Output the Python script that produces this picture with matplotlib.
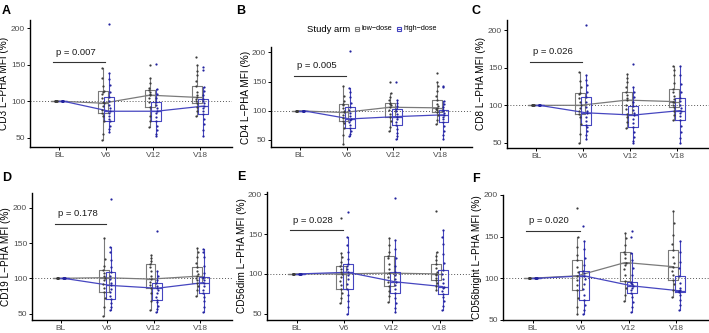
import numpy as np
import matplotlib
matplotlib.use("Agg")
import matplotlib.pyplot as plt
from matplotlib.lines import Line2D

plt.rcParams['font.family'] = ['Liberation Sans', 'DejaVu Sans']

########################################################### DATA
visits = ['BL', 'V6', 'V12', 'V18']
arms = ['low\u2212dose', 'high\u2212dose']

#box stats per visit V6,V12,V18 : (q1, median, q3, whisker low, whisker high)
cd3_low_box = [(84, 97, 114, 46, 145), (92, 108, 115, 65, 131), (97, 105, 120, 80, 150)]
cd3_high_box = [(72, 86, 106, 57, 139), (73, 86, 99, 52, 116), (82, 93, 103, 52, 119)]
cd3_low_pts = [[46, 55, 72, 80, 84, 88, 93, 97, 99, 104, 110, 113, 114, 120, 132, 145],
               [65, 72, 80, 92, 98, 104, 108, 110, 113, 115, 118, 124, 131, 149],
               [80, 86, 92, 97, 100, 103, 105, 108, 113, 120, 127, 135, 141, 150, 160]]
cd3_high_pts = [[57, 62, 66, 72, 76, 80, 84, 86, 90, 95, 100, 106, 112, 122, 130, 139, 205],
                [52, 55, 60, 66, 73, 78, 83, 86, 90, 95, 99, 104, 110, 116, 151],
                [52, 60, 68, 75, 82, 86, 90, 93, 97, 100, 103, 108, 114, 119, 143, 147]]

cd4_low_box = [(83, 97, 111, 43, 143), (89, 106, 114, 65, 130), (97, 105, 118, 78, 150)]
cd4_high_box = [(71, 86, 106, 57, 139), (76, 90, 103, 52, 118), (81, 93, 102, 52, 117)]
cd4_low_pts = [[43, 58, 70, 79, 83, 88, 93, 97, 100, 105, 109, 111, 116, 125, 143],
               [65, 73, 82, 89, 95, 101, 106, 109, 112, 114, 118, 123, 130, 150],
               [78, 85, 92, 97, 101, 103, 105, 108, 112, 118, 126, 134, 142, 150, 165]]
cd4_high_pts = [[57, 61, 66, 71, 75, 80, 84, 86, 91, 96, 101, 106, 113, 124, 132, 139, 202],
                [52, 56, 62, 69, 76, 81, 86, 90, 94, 99, 103, 108, 113, 118, 150],
                [52, 58, 66, 74, 81, 86, 90, 93, 96, 99, 102, 107, 112, 117, 141, 143]]

cd8_low_box = [(88, 100, 117, 50, 145), (88, 107, 118, 70, 142), (98, 105, 122, 80, 152)]
cd8_high_box = [(74, 90, 111, 55, 140), (71, 87, 99, 50, 125), (81, 93, 110, 50, 152)]
cd8_low_pts = [[50, 62, 75, 85, 88, 93, 97, 100, 104, 110, 115, 117, 124, 133, 145],
               [70, 78, 85, 88, 95, 101, 107, 110, 114, 118, 124, 131, 137, 142],
               [80, 87, 93, 98, 101, 104, 105, 108, 113, 118, 122, 130, 140, 147, 152]]
cd8_high_pts = [[55, 60, 66, 71, 74, 79, 84, 90, 93, 98, 104, 111, 118, 127, 134, 140, 207],
                [50, 53, 58, 64, 71, 76, 82, 87, 90, 94, 99, 104, 111, 118, 125, 155],
                [50, 56, 64, 72, 81, 86, 90, 93, 97, 101, 106, 110, 118, 128, 140, 152]]

cd19_low_box = [(81, 101, 112, 47, 157), (86, 99, 121, 55, 133), (93, 103, 116, 75, 143)]
cd19_high_box = [(71, 90, 109, 55, 145), (69, 86, 93, 52, 111), (79, 94, 102, 52, 142)]
cd19_low_pts = [[47, 60, 72, 81, 86, 92, 97, 101, 104, 108, 112, 117, 128, 157],
                [55, 68, 79, 86, 90, 95, 99, 104, 110, 116, 121, 125, 129, 133],
                [75, 83, 89, 93, 97, 100, 103, 106, 110, 116, 122, 130, 138, 143]]
cd19_high_pts = [[55, 59, 65, 71, 75, 80, 85, 90, 94, 99, 104, 109, 116, 126, 137, 145, 212],
                 [52, 56, 61, 66, 69, 74, 79, 83, 86, 89, 93, 98, 104, 111, 167],
                 [52, 60, 68, 74, 79, 84, 89, 94, 97, 100, 102, 108, 118, 130, 138, 142]]

cd56dim_low_box = [(81, 100, 110, 63, 126), (85, 101, 122, 65, 145), (92, 100, 112, 80, 128)]
cd56dim_high_box = [(81, 102, 112, 50, 146), (76, 90, 103, 52, 142), (75, 84, 105, 55, 155)]
cd56dim_low_pts = [[63, 70, 76, 81, 86, 91, 96, 100, 103, 106, 110, 115, 121, 126, 170],
                   [65, 72, 79, 85, 90, 96, 101, 106, 113, 120, 122, 128, 136, 145],
                   [80, 85, 89, 92, 95, 98, 100, 103, 107, 112, 117, 122, 128, 179]]
cd56dim_high_pts = [[50, 58, 66, 74, 81, 87, 93, 98, 102, 106, 110, 112, 119, 127, 136, 146, 178],
                    [52, 57, 63, 70, 76, 81, 86, 90, 94, 99, 103, 110, 120, 131, 142, 195],
                    [55, 60, 66, 71, 75, 79, 82, 84, 88, 94, 100, 105, 114, 125, 138, 147, 155]]

cd56br_low_box = [(86, 103, 122, 57, 150), (97, 119, 132, 73, 155), (98, 114, 134, 78, 181)]
cd56br_high_box = [(74, 103, 109, 57, 145), (82, 91, 96, 60, 130), (84, 85, 103, 62, 145)]
cd56br_low_pts = [[57, 66, 76, 86, 92, 98, 103, 108, 114, 122, 128, 138, 150, 184],
                   [73, 80, 88, 97, 104, 111, 116, 119, 124, 129, 132, 140, 148, 155],
                   [78, 86, 93, 98, 104, 109, 114, 119, 126, 134, 141, 152, 166, 181]]
cd56br_high_pts = [[57, 62, 68, 74, 80, 87, 93, 99, 103, 106, 109, 116, 125, 135, 145, 163],
                   [60, 66, 72, 78, 82, 86, 89, 91, 93, 95, 96, 104, 113, 122, 130, 150, 157],
                   [62, 68, 74, 80, 84, 85, 86, 89, 95, 103, 112, 120, 132, 145]]

ylabels = ['CD3 L\u2212PHA MFI (%)', 'CD4 L\u2212PHA MFI (%)', 'CD8 L\u2212PHA MFI (%)',
           'CD19 L\u2212PHA MFI (%)', 'CD56dim L\u2212PHA MFI (%)', 'CD56bright L\u2212PHA MFI (%)']
pvals = ['p = 0.007', 'p = 0.005', 'p = 0.026', 'p = 0.178', 'p = 0.028', 'p = 0.020']
p_line_y = [153, 160, 158, 177, 154.6, 157]
ylims = [(37, 211), (38, 209), (43, 214), (41, 221), (42, 203), (51, 190)]
letters = ['A', 'B', 'C', 'D', 'E', 'F']

low_box = [cd3_low_box, cd4_low_box, cd8_low_box, cd19_low_box, cd56dim_low_box, cd56br_low_box]
high_box = [cd3_high_box, cd4_high_box, cd8_high_box, cd19_high_box, cd56dim_high_box, cd56br_high_box]
low_pts = [cd3_low_pts, cd4_low_pts, cd8_low_pts, cd19_low_pts, cd56dim_low_pts, cd56br_low_pts]
high_pts = [cd3_high_pts, cd4_high_pts, cd8_high_pts, cd19_high_pts, cd56dim_high_pts, cd56br_high_pts]

########################################################### STYLE
W, H = 709, 333
# axes rectangles in pixels : left, right, top, bottom
ax_px = [(30, 232, 20, 147), (271, 472, 47, 147), (507, 709, 20, 148),
         (32, 232, 193, 320), (267, 472, 192, 320), (503, 709, 195, 320)]
letter_px = [(2, 14), (236, 14), (472, 14), (2, 181), (237, 180), (472, 182)]

gray_line = '#7a7a7a'
gray_pt = '#3c3c3c'
blue_line = '#4646c0'
blue_pt = '#23239e'
dodge = 0.07
bw = 0.21

fig = plt.figure(figsize=(W / 100, H / 100), dpi=100)


def stats_list(box, fl):
    out = [dict(q1=100, med=100, q3=100, whislo=100, whishi=100, fliers=[])]
    for (q1, med, q3, lo, hi), pts in zip(box, fl):
        out.append(dict(q1=q1, med=med, q3=q3, whislo=lo, whishi=hi,
                        fliers=[p for p in pts if p > hi or p < lo]))
    return out


for k in range(6):
    l, r, t, b = ax_px[k]
    ax = fig.add_axes([l / W, 1 - b / H, (r - l) / W, (b - t) / H])
    x = np.arange(1, 5)
    ax.axhline(100, color='#555555', ls=(0, (1, 2)), lw=0.7, zorder=1)

    for arm, (box, pts, lc, pc, off) in enumerate([
            (low_box[k], low_pts[k], gray_line, gray_pt, -dodge),
            (high_box[k], high_pts[k], blue_line, blue_pt, dodge)]):
        st = stats_list(box, pts)
        ax.bxp(st, positions=x + off, widths=bw, showfliers=False, showcaps=False,
               boxprops=dict(color=lc, lw=0.8), medianprops=dict(color=lc, lw=0.9),
               whiskerprops=dict(color=lc, lw=0.8), manage_ticks=False)
        # points
        for j, vals in enumerate([[100] * 8] + pts):
            jit = np.resize([-0.015, 0.0, 0.015, 0.005, -0.008], len(vals))
            ax.plot(x[j] + off + jit, vals, 'o', ms=1.6, color=pc, mec='none', zorder=3)
        # median line
        meds = [s['med'] for s in st]
        ax.plot(x + off, meds, color=lc, lw=0.9, zorder=2)

    # p bracket
    ax.plot([0.87, 1.98], [p_line_y[k]] * 2, color='#333333', lw=0.8)
    ax.annotate(pvals[k], (0.93, p_line_y[k]), xytext=(0, 4), textcoords='offset points',
                ha='left', va='bottom', fontsize=6.8, color='#1a1a1a')

    ax.set_xlim(0.38, 4.68)
    ax.set_ylim(*ylims[k])
    ax.set_yticks([50, 100, 150, 200])
    ax.set_xticks(x)
    ax.set_xticklabels(visits)
    ax.set_ylabel(ylabels[k], fontsize=7.2, labelpad=1)
    for s in ['top', 'right']:
        ax.spines[s].set_visible(False)
    for s in ['left', 'bottom']:
        ax.spines[s].set_linewidth(1.0)
    ax.tick_params(labelsize=6.0, labelcolor='#4d4d4d', length=2, width=0.7, pad=1.5)

    fig.text(letter_px[k][0] / W, 1 - letter_px[k][1] / H, letters[k], fontsize=9,
             fontweight='bold', ha='left', va='baseline')

########################################################### LEGEND
fig.text(307 / W, 1 - 29 / H, 'Study arm', fontsize=6.8, va='center', ha='left')
for lx, tx, col, lab in [(357, 362, gray_line, arms[0]), (399, 404, blue_line, arms[1])]:
    fig.add_artist(Line2D([lx / W], [1 - 29 / H], marker='s', ms=3.5, mfc='none', mec=col,
                          mew=0.8, transform=fig.transFigure))
    fig.add_artist(Line2D([(lx - 2.2) / W, (lx + 2.2) / W], [1 - 29 / H] * 2, color=col,
                          lw=0.7, transform=fig.transFigure))
    fig.text(tx / W, 1 - 29 / H, lab, fontsize=5.2, va='center', ha='left')

plt.savefig('out.png', dpi=100)
